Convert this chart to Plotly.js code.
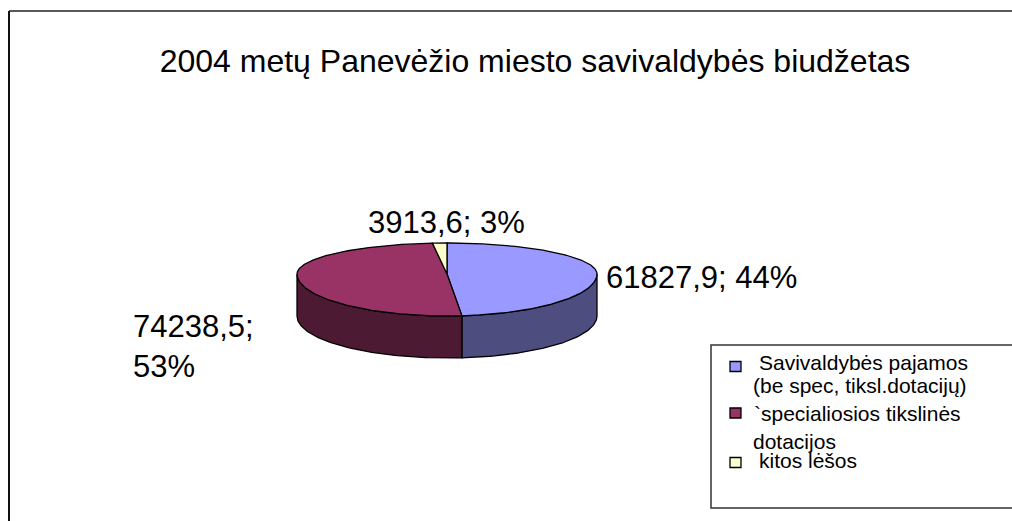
<!DOCTYPE html>
<html>
<head>
<meta charset="utf-8">
<script src="https://cdn.plot.ly/plotly-3.0.1.min.js"></script>
<style>html,body{margin:0;padding:0;background:#fff;}#chart{width:1012px;height:521px;}</style>
</head>
<body>
<div id="chart"></div>
<script>
// ---- data ----
const chartTitle = "2004 metų Panevėžio miesto savivaldybės biudžetas";
const categories = [
  "Savivaldybės pajamos<br>(be spec, tiksl.dotacijų)",
  "`specialiosios tikslinės<br>dotacijos",
  "kitos lėšos"
];
const values = [61827.9, 74238.5, 3913.6];
const topColors = ["#9999FF", "#993366", "#FFFFCC"];
const sideColors = ["#4D4D80", "#4D1A33", "#80806A"];

// ---- geometry / style constants ----
const W = 1012, H = 521;
const CX = 447, CY = 274, RX = 150, RY_FAR = 31, RY_NEAR = 42, DEPTH = 42;
const FAR_RATIO = 0.55, NEAR_RATIO = 0.26;   // projection of slice angles (3-D look)
const FONT = "Liberation Sans, Arial, sans-serif";

function ryOf(phi) { return Math.cos(phi) >= 0 ? RY_FAR : RY_NEAR; }
function pt(phi, dy) { return [CX + RX * Math.sin(phi), CY - ryOf(phi) * Math.cos(phi) + dy]; }
function toPhi(theta) {
  const r = Math.cos(theta) >= 0 ? FAR_RATIO : NEAR_RATIO;
  let p = Math.atan2(Math.sin(theta) * r, Math.cos(theta));
  if (p < 0) p += 2 * Math.PI;
  if (theta > 0 && p === 0) p = 2 * Math.PI;
  return p;
}
function arc(a, b, dy) {
  const n = Math.max(2, Math.ceil(Math.abs(b - a) / (Math.PI / 180)));
  const xs = [], ys = [];
  for (let i = 0; i <= n; i++) {
    const p = pt(a + (b - a) * i / n, dy);
    xs.push(p[0]); ys.push(p[1]);
  }
  return [xs, ys];
}

const total = values.reduce((s, v) => s + v, 0);
const sideTraces = [], topTraces = [];
let acc = 0;
values.forEach((v, i) => {
  const t0 = acc / total * 2 * Math.PI;
  acc += v;
  const t1 = acc / total * 2 * Math.PI;
  const a = toPhi(t0), b = i === values.length - 1 ? 2 * Math.PI : toPhi(t1);
  // top face
  const [ax, ay] = arc(a, b, 0);
  topTraces.push({
    type: "scatter", mode: "lines", fill: "toself",
    x: [CX].concat(ax, [CX]), y: [CY].concat(ay, [CY]),
    fillcolor: topColors[i], line: {color: "#000", width: 1.3},
    hoverinfo: "skip", showlegend: false, name: categories[i]
  });
  // visible side wall (front half)
  const lo = Math.max(a, Math.PI / 2), hi = Math.min(b, 3 * Math.PI / 2);
  if (lo < hi) {
    const [tx, ty] = arc(lo, hi, 0);
    const [bx, by] = arc(hi, lo, DEPTH);
    sideTraces.push({
      type: "scatter", mode: "lines", fill: "toself",
      x: tx.concat(bx, [tx[0]]), y: ty.concat(by, [ty[0]]),
      fillcolor: sideColors[i], line: {color: "#000", width: 1.3},
      hoverinfo: "skip", showlegend: false
    });
  }
});

function fmt(v) { return v.toFixed(1).replace(".", ","); }
function pct(v) { return Math.round(v / total * 100) + "%"; }

// data labels (positions are layout constants)
const labelPos = [
  {x: 604, y: 277, xanchor: "left", text: fmt(values[0]) + "; " + pct(values[0])},
  {x: 131, y: 346, xanchor: "left", text: fmt(values[1]) + ";<br>" + pct(values[1])},
  {x: 446, y: 222, xanchor: "center", text: fmt(values[2]) + "; " + pct(values[2])}
];
const annotations = labelPos.map(l => ({
  x: l.x, y: l.y, xref: "x", yref: "y", xanchor: l.xanchor, yanchor: "middle",
  text: l.text, showarrow: false, align: "left",
  font: {family: FONT, size: 31, color: "#000"}
}));

// legend (manual, Excel-like)
const legendMarkerY = [366.5, 413, 462.5];
const legendLineY = [[362, 385], [413, 441], [460]];
const legendLineX = [[757, 751], [752, 751], [757]];
const shapes = [
  {type: "line", x0: 9, x1: 9, y0: 11, y1: H, xref: "x", yref: "y", line: {color: "#111", width: 2}},
  {type: "line", x0: 9, x1: W, y0: 11, y1: 11, xref: "x", yref: "y", line: {color: "#222", width: 1.5}},
  {type: "rect", x0: 711, x1: W + 10, y0: 345, y1: 508, xref: "x", yref: "y", line: {color: "#333", width: 1.5}, fillcolor: "rgba(0,0,0,0)"}
];
categories.forEach((c, i) => {
  shapes.push({type: "rect", xref: "x", yref: "y", x0: 730, x1: 741,
    y0: legendMarkerY[i] - 5, y1: legendMarkerY[i] + 5,
    fillcolor: topColors[i], line: {color: "#000", width: 1.3}});
  c.split("<br>").forEach((line, j) => {
    annotations.push({x: legendLineX[i][j], y: legendLineY[i][j], xref: "x", yref: "y",
      xanchor: "left", yanchor: "middle", text: line, showarrow: false,
      font: {family: FONT, size: 21, color: "#000"}});
  });
});

const layout = {
  width: W, height: H,
  margin: {l: 0, r: 0, t: 0, b: 0, pad: 0},
  paper_bgcolor: "#fff", plot_bgcolor: "#fff",
  title: {text: chartTitle, font: {family: FONT, size: 32, color: "#000"},
    x: 535 / W, xanchor: "center", y: 1 - 61 / H, yanchor: "middle", xref: "paper", yref: "container"},
  xaxis: {range: [0, W], visible: false, fixedrange: true},
  yaxis: {range: [H, 0], visible: false, fixedrange: true},
  showlegend: false,
  annotations: annotations,
  shapes: shapes
};

Plotly.newPlot("chart", sideTraces.concat(topTraces), layout, {staticPlot: true, displayModeBar: false});
</script>
</body>
</html>
